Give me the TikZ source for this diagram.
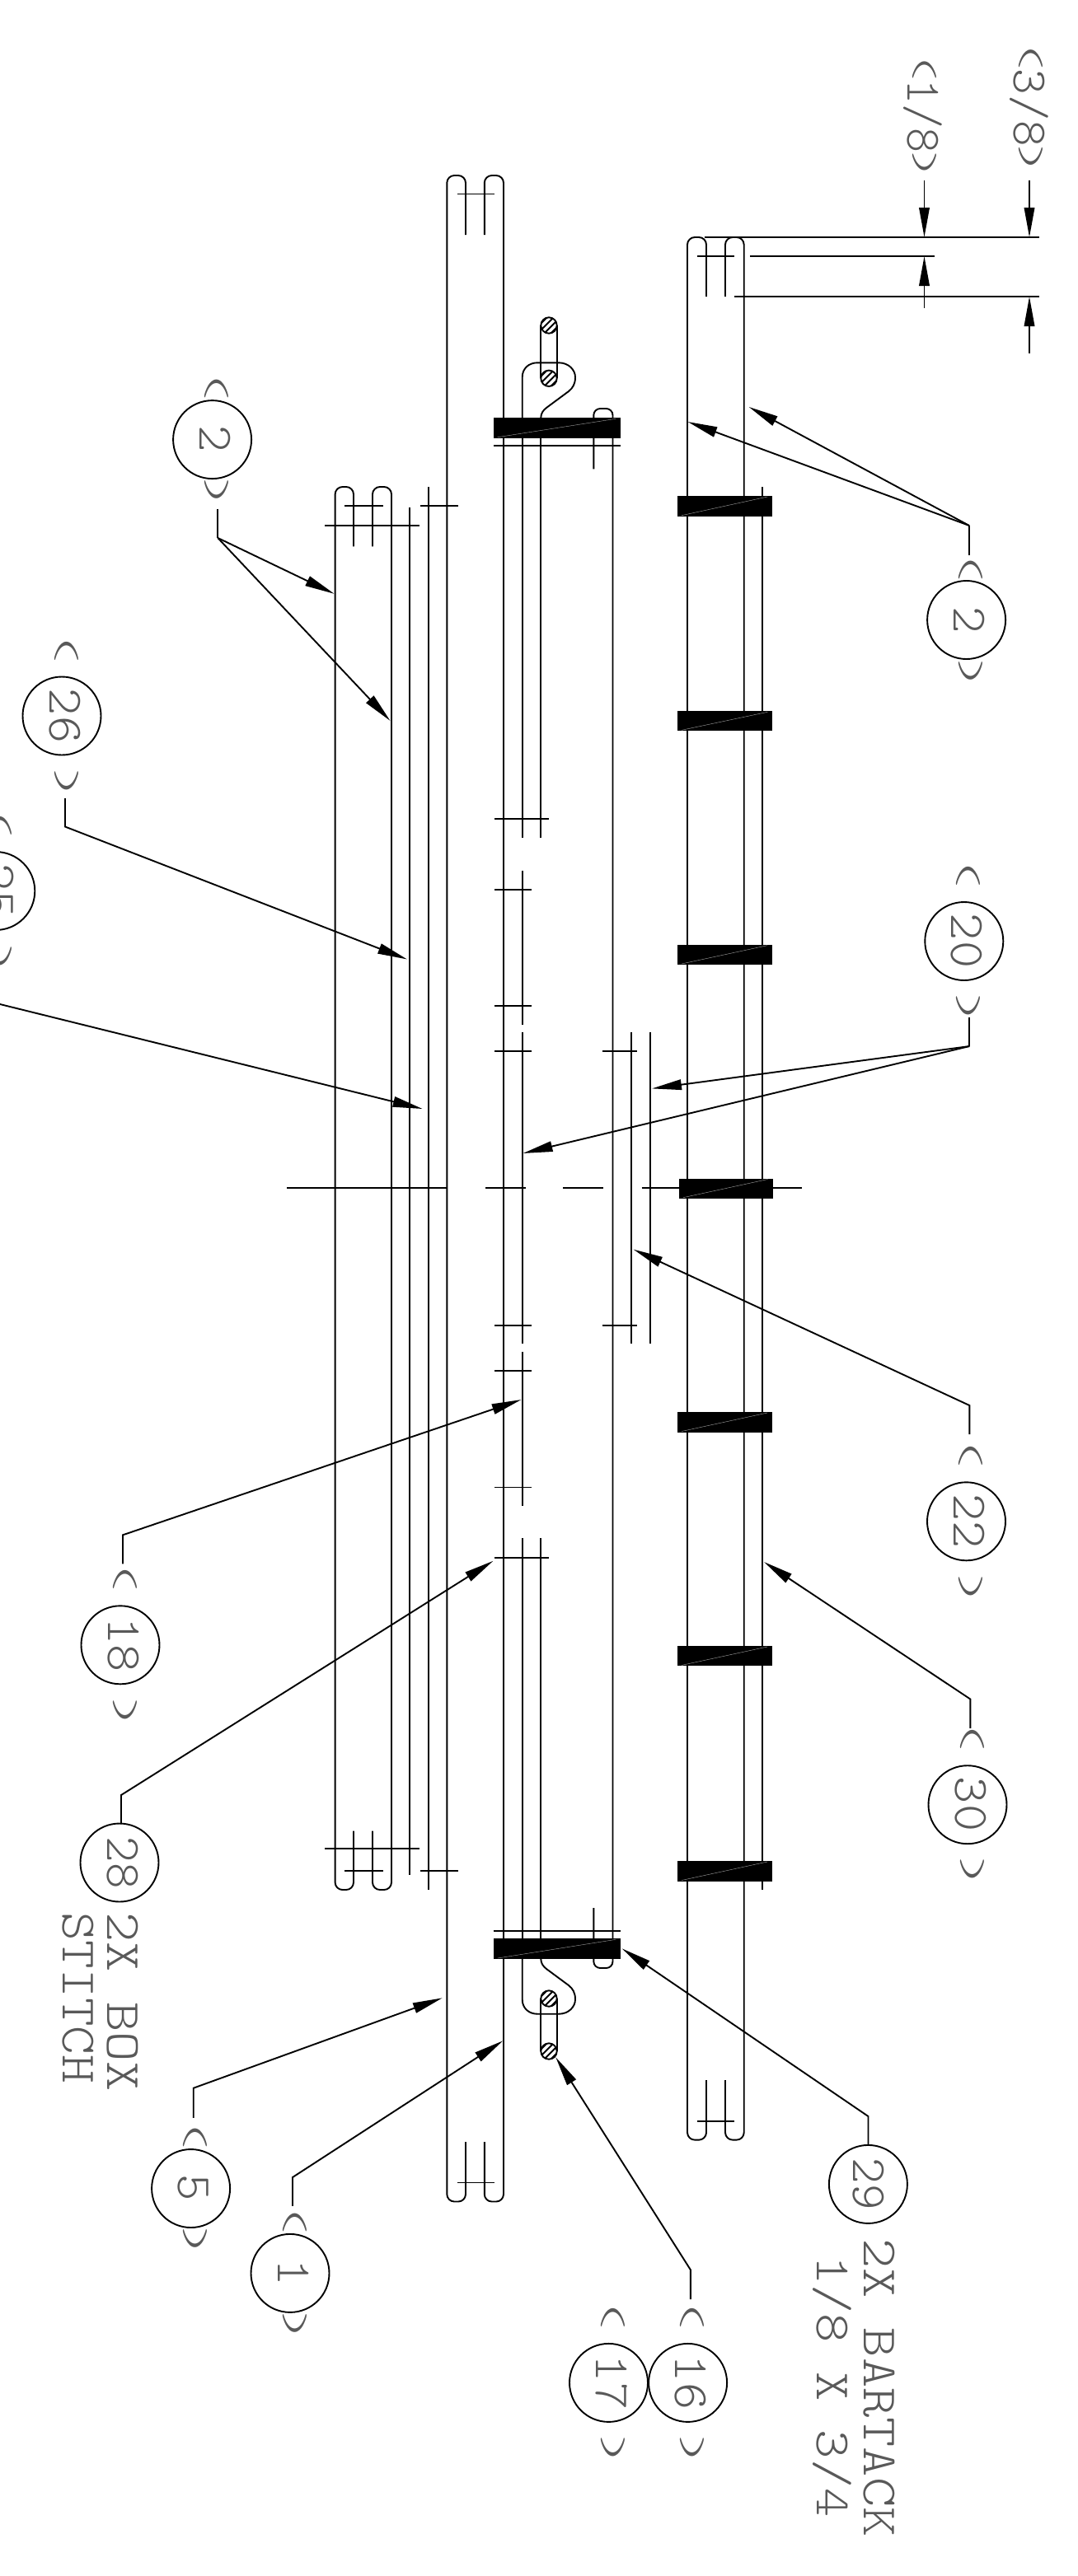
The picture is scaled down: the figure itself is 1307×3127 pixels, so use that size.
\documentclass[tikz,border=0pt]{standalone}
\usetikzlibrary{arrows.meta}
\newcommand\cadfont{\fontfamily{lmtt}\fontseries{l}\fontsize{60}{60}\selectfont}
\newcommand\sx[2]{\scalebox{#1}[1]{#2}}
\newcommand\LP{\makebox[31.5pt]{\raisebox{9.3pt}{\scalebox{1.4}[0.62]{(}}}}
\newcommand\RP{\makebox[31.5pt]{\raisebox{9.3pt}{\scalebox{1.4}[0.62]{)}}}}
\newcommand\hatchc[2]{%
  \begin{scope}[shift={(#1,#2)}]
    \begin{scope}\clip (0,0) circle (9.7);
      \foreach \k in {-6,-2,2,6}{\draw[ln] (-14+\k,14+\k) -- (14+\k,-14+\k);}
    \end{scope}
    \draw[ln] (0,0) circle (9.7);
  \end{scope}}
\newcommand\barr[5]{%
  \fill[black] (#1,#2) rectangle (#3,#4);
  \draw[gray!70,line width=0.4pt] (#1+5,#4-1) -- (#3-6,#2+1);}
\tikzset{
  ln/.style={line width=1.9pt,draw=black},
  rc/.style={ln,rounded corners=9pt},
  lead/.style={line width=1.9pt,draw=black,-{Triangle[length=36pt,width=12.5pt]}},
  leadplain/.style={line width=1.9pt,draw=black},
  cadtext/.style={rotate=-90,anchor=base,inner sep=0pt,font=\cadfont,text=black!65},
  bub/.style={circle,draw=black,line width=1.9pt,minimum size=95pt,inner sep=0pt}
}
\begin{document}
\begin{tikzpicture}[x=1pt,y=-1pt]
\useasboundingbox (0,0) rectangle (1307,3127);
\clip (0,0) rectangle (1307,3127);
% ---------- centre (largest) strap
\draw[rc] (565,285) -- (565,213) -- (542.3,213) -- (542.3,2672.5) -- (565,2672.5) -- (565,2600);
\draw[rc] (587.8,285) -- (587.8,213) -- (611,213) -- (611,2672.5) -- (587.8,2672.5) -- (587.8,2600);
\draw[ln] (554.6,235.5) -- (600,235.5);
\draw[ln] (554.6,2649.5) -- (600,2649.5);
% ---------- left strap
\draw[rc] (429,663.4) -- (429,591) -- (406.6,591) -- (406.6,2294) -- (429,2294) -- (429,2222.5);
\draw[rc] (452,663.4) -- (452,591) -- (475,591) -- (475,2294) -- (452,2294) -- (452,2222.5);
\draw[ln] (418,613.7) -- (465,613.7);
\draw[ln] (418,2271) -- (465,2271);
\draw[ln] (394.4,638) -- (508.7,638);
\draw[ln] (394.4,2244.4) -- (508.7,2244.4);
\draw[ln] (497.4,615.6) -- (497.4,2275.7);
\draw[ln] (520,591) -- (520,2294);
\draw[ln] (510,613.7) -- (556,613.7);
\draw[ln] (510,2271) -- (556,2271);
% ---------- right strap
\draw[rc] (857,360) -- (857,288) -- (834,288) -- (834,2597.6) -- (857,2597.6) -- (857,2525);
\draw[rc] (880,360) -- (880,288) -- (902.7,288) -- (902.7,2597.6) -- (880,2597.6) -- (880,2525);
\draw[ln] (845.5,311) -- (891,311);
\draw[ln] (845.6,2574.8) -- (891,2574.8);
\draw[ln] (925,591) -- (925,2294);
% ---------- dimension lines
\draw[ln] (854.6,288) -- (1261,288);
\draw[ln] (910,311) -- (1133.6,311);
\draw[ln] (891,360) -- (1261,360);
\coordinate (d1a) at (1121.5,219); \coordinate (d1b) at (1121.5,288);
\coordinate (d1c) at (1121.5,374); \coordinate (d1d) at (1121.5,311);
\coordinate (d2a) at (1249,219);   \coordinate (d2b) at (1249,288);
\coordinate (d2c) at (1249,428.6); \coordinate (d2d) at (1249,360);
\draw[lead] (d1a) -- (d1b);
\draw[lead] (d1c) -- (d1d);
\draw[lead] (d2a) -- (d2b);
\draw[lead] (d2c) -- (d2d);
% ---------- inner webbing, stitch lines
\draw[ln] (633.7,507) -- (633.7,458) .. controls (633.7,447) and (642,440.3) .. (652,440.3) -- (678,440.3)
  .. controls (690,440.3) and (698,449) .. (698,458) .. controls (698,466) and (695,471) .. (690,475)
  -- (663,495) .. controls (659,498) and (656.3,502) .. (656.3,507);
\draw[ln] (633.7,2378) -- (633.7,2427) .. controls (633.7,2438) and (642,2444.7) .. (652,2444.7) -- (678,2444.7)
  .. controls (690,2444.7) and (698,2436) .. (698,2427) .. controls (698,2419) and (695,2414) .. (690,2410)
  -- (663,2390) .. controls (659,2387) and (656.3,2383) .. (656.3,2378);
\draw[ln] (633.7,531) -- (633.7,1016.7);
\draw[ln] (656.3,531) -- (656.3,1016.7);
\draw[ln] (633.7,1056.5) -- (633.7,1243.6);
\draw[ln] (633.7,1253) -- (633.7,1631.4);
\draw[ln] (633.7,1641) -- (633.7,1828);
\draw[ln] (633.7,1867) -- (633.7,2354);
\draw[ln] (656.3,1867) -- (656.3,2354);
\draw[ln] (600,994.4) -- (666,994.4);
\draw[ln] (600,1080) -- (645,1080);
\draw[ln] (600,1220.7) -- (645,1220.7);
\draw[ln] (600,1276) -- (645,1276);
\draw[ln] (600,1609) -- (645,1609);
\draw[ln] (600,1664) -- (645,1664);
\draw[ln] (600,1805.5) -- (645,1805.5);
\draw[ln] (600,1891) -- (666,1891);
% small loops
\draw[ln,rounded corners=8pt] (720.3,569.3) -- (720.3,496) -- (743.5,496) -- (743.5,2389) -- (720.3,2389) -- (720.3,2316);
% pills
\draw[ln] (656.3,395) -- (656.3,459.3);
\draw[ln] (675.7,395) -- (675.7,459.3);
\draw[ln] (656.3,2426) -- (656.3,2490);
\draw[ln] (675.7,2426) -- (675.7,2490);
\fill[white] (666,395) circle (9.7) (666,459.3) circle (9.7) (666,2426) circle (9.7) (666,2490) circle (9.7);
\hatchc{666}{395}
\hatchc{666}{459.3}
\hatchc{666}{2426}
\hatchc{666}{2490}
% top and bottom ticks over bars
\draw[ln] (598.7,541) -- (753.3,541);
\draw[ln] (598.7,2344.3) -- (753.3,2344.3);
% ---------- binding centre section
\draw[ln] (766,1253) -- (766,1631.4);
\draw[ln] (788.6,1253) -- (788.6,1631.4);
\draw[ln] (730.6,1276) -- (772.6,1276);
\draw[ln] (730.6,1609) -- (772.6,1609);
% centre line
\draw[ln] (348.4,1442) -- (543,1442);
\draw[ln] (589,1442) -- (637.6,1442);
\draw[ln] (683.4,1442) -- (732,1442);
\draw[ln] (778.6,1442) -- (972.6,1442);
% ---------- bartacks
\barr{822}{602}{937.3}{626.7}{}
\barr{822}{863.3}{937.3}{887.3}{}
\barr{822}{1146.7}{937}{1171}{}
\barr{824}{1430.5}{937.6}{1454.7}{}
\barr{822}{1714}{937}{1738.5}{}
\barr{822}{1998}{937}{2022.4}{}
\barr{822}{2259}{937}{2283.5}{}
\barr{598.7}{507.3}{753.3}{531.7}{}
\barr{598.7}{2353.3}{753.3}{2378}{}
% ---------- balloons
\node[bub] (b2a) at (257.6,533.6) {};
\node[bub] (b26) at (75,869) {};
\node[bub] (b25) at (-5.2,1081.5) {};
\node[bub] (b18) at (146,1996.8) {};
\node[bub] (b28) at (145,2261) {};
\node[bub] (b5) at (231.6,2656.5) {};
\node[bub] (b1) at (352,2759.4) {};
\node[bub] (b17) at (738.5,2892.4) {};
\node[bub] (b16) at (834.6,2892.4) {};
\node[bub] (b29) at (1053.4,2651.4) {};
\node[bub] (b2b) at (1172.6,752.5) {};
\node[bub] (b20) at (1169.8,1142.5) {};
\node[bub] (b22) at (1172.5,1846.8) {};
\node[bub] (b30) at (1174,2190.7) {};
% ---------- texts
\node[cadtext] (t18a) at (1101,141) {\sx{0.95}{\LP 1/8\RP}};
\node[cadtext] (t38a) at (1230,131) {\sx{1.0}{\LP 3/8\RP}};
\node[cadtext] (t2a) at (242,533) {\sx{1.03}{\LP\ 2 \RP}};
\node[cadtext] (t2b) at (1157,753) {\sx{1.03}{\LP\ 2 \RP}};
\node[cadtext] (t26) at (60,869) {\sx{1.05}{\LP\ 26 \RP}};
\node[cadtext] (t25) at (-20.7,1081.5) {\sx{1.05}{\LP\ 25 \RP}};
\node[cadtext] (t20) at (1154.3,1142) {\sx{1.05}{\LP\ 20 \RP}};
\node[cadtext] (t22) at (1157,1846.5) {\sx{1.05}{\LP\ 22 \RP}};
\node[cadtext] (t30) at (1159,2190) {\sx{1.05}{\LP\ 30 \RP}};
\node[cadtext] (t18) at (131,1996.5) {\sx{1.05}{\LP\ 18 \RP}};
\node[cadtext] (t5) at (216,2656) {\sx{1.03}{\LP\ 5 \RP}};
\node[cadtext] (t1) at (337,2759) {\sx{1.03}{\LP\ 1 \RP}};
\node[cadtext] (t16) at (819,2892) {\sx{1.05}{\LP\ 16 \RP}};
\node[cadtext] (t17) at (723.6,2892) {\sx{1.05}{\LP\ 17 \RP}};
\node[cadtext] (t28) at (130,2261) {28};
\node[cadtext] (t28a) at (130,2430) {\sx{1.15}{2X BOX}};
\node[cadtext] (t28b) at (76.5,2425) {\sx{1.1}{STITCH}};
\node[cadtext] (t29) at (1035,2651) {29};
\node[cadtext] (t29a) at (1048.4,2898.4) {\sx{1.15}{2X BARTACK}};
\node[cadtext] (t29b) at (991.5,2897) {\sx{1.12}{1/8 X 3/4}};
% ---------- leaders
\coordinate (s2a) at (264.3,617.5); \coordinate (e2a) at (264.3,653);
\coordinate (p2a) at (405.6,720.8); \coordinate (q2a) at (473.5,875);
\draw[leadplain] (s2a) -- (e2a); \draw[lead] (e2a) -- (p2a); \draw[lead] (e2a) -- (q2a);
\coordinate (s26) at (79,969); \coordinate (e26) at (79,1003.5); \coordinate (p26) at (494,1164.5);
\draw[lead] (s26) -- (e26) -- (p26);
\coordinate (e25) at (-2,1218.5); \coordinate (p25) at (512.6,1346);
\draw[lead] (e25) -- (p25);
\coordinate (s18) at (149,1898.3); \coordinate (e18) at (149,1863.3); \coordinate (p18) at (632.5,1699);
\draw[lead] (s18) -- (e18) -- (p18);
\coordinate (s28) at (147,2214); \coordinate (e28) at (147,2179); \coordinate (p28) at (598.4,1894.8);
\draw[lead] (s28) -- (e28) -- (p28);
\coordinate (s5) at (234.7,2570.8); \coordinate (e5) at (234.7,2534.7); \coordinate (p5) at (536.7,2425.3);
\draw[lead] (s5) -- (e5) -- (p5);
\coordinate (s1) at (355,2677.8); \coordinate (e1) at (355,2643); \coordinate (p1) at (610.2,2477.3);
\draw[lead] (s1) -- (e1) -- (p1);
\coordinate (s16) at (837.8,2791); \coordinate (e16) at (837.8,2755.2); \coordinate (p16) at (674.3,2497.3);
\draw[lead] (s16) -- (e16) -- (p16);
\coordinate (s29) at (1053.5,2604); \coordinate (e29) at (1053.5,2569); \coordinate (p29) at (754.7,2365.3);
\draw[lead] (s29) -- (e29) -- (p29);
\coordinate (s30) at (1177.3,2097.8); \coordinate (e30) at (1177.3,2062.5); \coordinate (p30) at (927,1896);
\draw[lead] (s30) -- (e30) -- (p30);
\coordinate (s22) at (1176.3,1741.2); \coordinate (e22) at (1176.3,1706); \coordinate (p22) at (768.5,1516.6);
\draw[lead] (s22) -- (e22) -- (p22);
\coordinate (s20) at (1176.3,1235); \coordinate (e20) at (1176.3,1270);
\coordinate (p20) at (791,1321.4); \coordinate (q20) at (634.6,1400);
\draw[leadplain] (s20) -- (e20); \draw[lead] (e20) -- (p20); \draw[lead] (e20) -- (q20);
\coordinate (s2b) at (1176,673.5); \coordinate (e2b) at (1176,638);
\coordinate (p2b) at (834.5,512); \coordinate (q2b) at (908.7,494);
\draw[leadplain] (s2b) -- (e2b); \draw[lead] (e2b) -- (p2b); \draw[lead] (e2b) -- (q2b);
\end{tikzpicture}
\end{document}
